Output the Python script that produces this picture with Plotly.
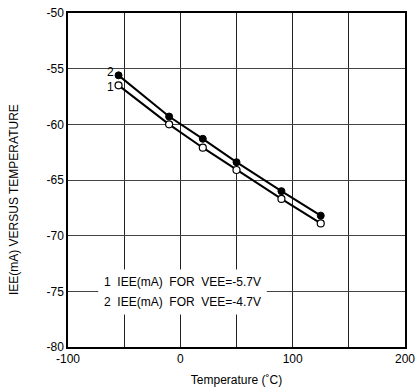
import plotly.graph_objects as go

# Data
temperature = [-55, -10, 20, 50, 90, 125]
iee_vee_57 = [-56.5, -60.0, -62.1, -64.1, -66.7, -68.9]   # series 1 (open circles)
iee_vee_47 = [-55.6, -59.3, -61.3, -63.4, -66.0, -68.2]   # series 2 (filled circles)

x_tickvals = [-100, -50, 0, 50, 100, 150, 200]
x_ticktext = ["-100", "", "0", "", "100", "", "200"]
y_tickvals = [-80, -75, -70, -65, -60, -55, -50]
y_ticktext = ["-80", "-75", "-70", "-65", "-60", "-55", "-50"]

legend_lines = ["1\u00a0\u00a0IEE(mA)\u00a0\u00a0FOR\u00a0\u00a0VEE=-5.7V",
                "2\u00a0\u00a0IEE(mA)\u00a0\u00a0FOR\u00a0\u00a0VEE=-4.7V"]

fig = go.Figure()
fig.add_trace(go.Scatter(
    x=temperature, y=iee_vee_47, mode="lines+markers",
    line=dict(color="black", width=2),
    marker=dict(symbol="circle", size=7, color="black", line=dict(color="black", width=1)),
    showlegend=False))
fig.add_trace(go.Scatter(
    x=temperature, y=iee_vee_57, mode="lines+markers",
    line=dict(color="black", width=2),
    marker=dict(symbol="circle", size=7, color="white", line=dict(color="black", width=1.2)),
    showlegend=False))

font = dict(family="Liberation Sans, Arial, sans-serif", color="black")

# series number labels
fig.add_annotation(x=temperature[0], y=iee_vee_47[0], text="2", showarrow=False,
                   xanchor="right", yanchor="middle", xshift=-3, yshift=3,
                   font=dict(size=12, **font))
fig.add_annotation(x=temperature[0], y=iee_vee_57[0], text="1", showarrow=False,
                   xanchor="right", yanchor="middle", xshift=-3, yshift=-2,
                   font=dict(size=12, **font))

# legend text boxes
for i, t in enumerate(legend_lines):
    fig.add_annotation(xref="paper", yref="paper", x=0.089, y=[0.195, 0.135][i],
                       text=t, showarrow=False, xanchor="left", yanchor="middle",
                       bgcolor="white", borderpad=5, font=dict(size=12, **font))

# y-axis title (placed slightly below centre, as in the reference)
fig.add_annotation(xref="paper", yref="paper", x=-0.16, y=0.44,
                   text="IEE(mA) VERSUS TEMPERATURE", textangle=-90, showarrow=False,
                   xanchor="center", yanchor="middle", font=dict(size=12, **font))

fig.update_xaxes(range=[-100, 200], tickvals=x_tickvals, ticktext=x_ticktext,
                 showgrid=True, gridcolor="#222", gridwidth=1, zeroline=False,
                 showline=True, linecolor="black", linewidth=1.5, mirror=True,
                 ticks="", tickfont=dict(size=12, **font), ticklabelstandoff=0,
                 automargin=False, ticklabeloverflow="allow",
                 title=dict(text="Temperature (˚C)", font=dict(size=12, **font), standoff=23))
fig.update_yaxes(range=[-80, -50], tickvals=y_tickvals, ticktext=y_ticktext,
                 showgrid=True, gridcolor="#444", gridwidth=1, zeroline=False,
                 showline=True, linecolor="black", linewidth=1.5, mirror=True,
                 ticks="", tickfont=dict(size=12, **font), automargin=False,
                 ticklabeloverflow="allow")

fig.update_layout(width=418, height=387, margin=dict(l=68, r=13, t=13, b=40),
                  plot_bgcolor="white", paper_bgcolor="white", font=font)

# remove the browser's default 8px body margin so the figure fills the window
fig.write_html("out.html", config={"displayModeBar": False},
               post_script="document.body.style.margin='0';")
